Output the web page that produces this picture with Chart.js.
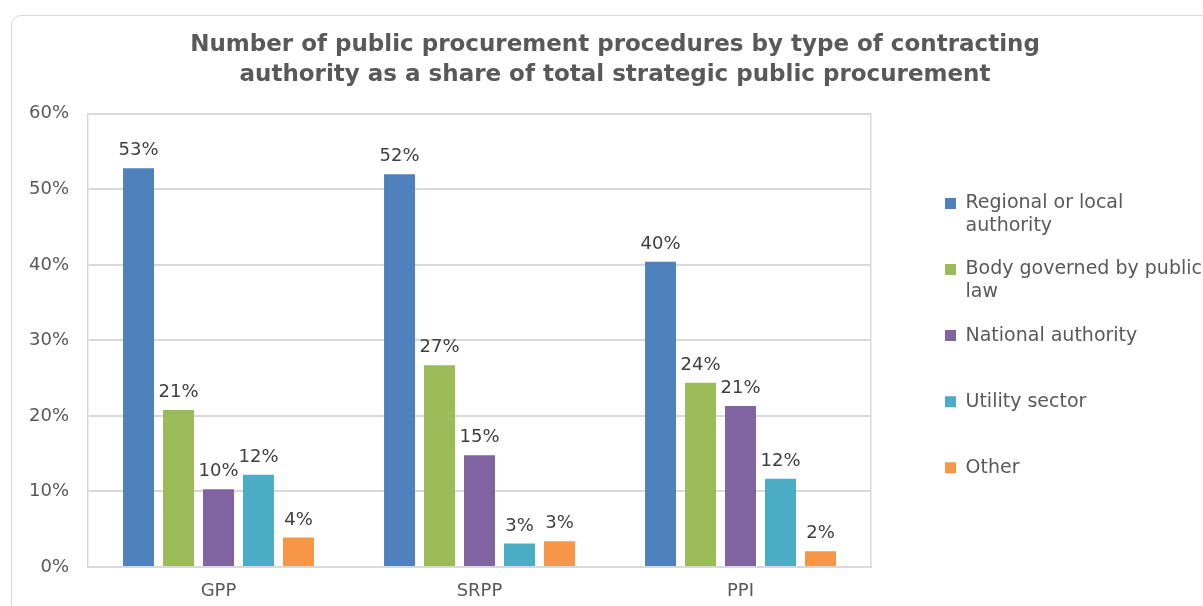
<!DOCTYPE html>
<html>
<head>
<meta charset="utf-8">
<script src="https://cdn.jsdelivr.net/npm/chart.js@4"></script>
<style>
  body { margin: 0; background: #fff; }
  #wrap { position: relative; width: 1203px; height: 606px; overflow: hidden; }
  #frame {
    position: absolute; left: 11px; top: 15px; width: 1260px; height: 660px;
    border: 1.5px solid #d9d9d9; border-radius: 10px;
  }
  #myChart { position: absolute; left: 0; top: 0; }
</style>
</head>
<body>
<div id="wrap">
  <div id="frame"></div>
  <canvas id="myChart" width="1203" height="606"></canvas>
</div>
<script>
// Share of strategic public procurement procedures by contracting authority

const categorias = ['GPP', 'SRPP', 'PPI'];

const regional = [52.8, 52.0, 40.4];
const organismo = [20.8, 26.7, 24.4];
const nacional = [10.3, 14.8, 21.3];
const utilidade = [12.2, 3.1, 11.7];
const outros = [3.9, 3.4, 2.1];

const nomes_series = [
    ['Regional or local', 'authority'],
    ['Body governed by public', 'law'],
    ['National authority', ''],
    ['Utility sector', ''],
    ['Other', '']
];
const cores = ['#4F81BD', '#9BBB59', '#8064A2', '#4BACC6', '#F79646'];

const ticks_y = [0, 10, 20, 30, 40, 50, 60];

const titulo = [
    'Number of public procurement procedures by type of contracting',
    'authority as a share of total strategic public procurement'
];

Chart.defaults.font.family = "Verdana, 'DejaVu Sans', sans-serif";
Chart.defaults.color = '#595959';

const fmt = v => Math.round(v) + '%';

// value labels above each bar
const rotulos = {
    id: 'rotulos',
    afterDatasetsDraw(chart) {
        const c = chart.ctx;
        c.save();
        c.font = "18px Verdana, 'DejaVu Sans', sans-serif";
        c.fillStyle = '#404040';
        c.textAlign = 'center';
        c.textBaseline = 'alphabetic';
        chart.data.datasets.forEach((ds, i) => {
            chart.getDatasetMeta(i).data.forEach((bar, j) => {
                c.fillText(fmt(ds.data[j]), bar.x, bar.y - 13);
            });
        });
        c.restore();
    }
};

const series = [regional, organismo, nacional, utilidade, outros];

const ctx = document.getElementById('myChart').getContext('2d');
const myChart = new Chart(ctx, {
    type: 'bar',
    data: {
        labels: categorias,
        datasets: series.map((d, i) => ({
            label: nomes_series[i],
            data: d,
            backgroundColor: cores[i],
            borderWidth: 0,
            categoryPercentage: 0.766,
            barPercentage: 0.775
        }))
    },
    options: {
        responsive: false,
        animation: false,
        layout: {
            padding: { left: 27, right: 0, top: 0, bottom: 3 }
        },
        plugins: {
            title: {
                display: true,
                text: titulo,
                color: '#595959',
                font: { size: 23, weight: 'bold', lineHeight: 1.3 },
                padding: { top: 30, bottom: 24 }
            },
            legend: {
                position: 'right',
                align: 'start',
                maxWidth: 278.5,
                // blank title pushes the items down to the middle of the plot
                title: {
                    display: true,
                    text: ' ',
                    font: { size: 12 },
                    padding: { top: 0, bottom: 159 }
                },
                labels: {
                    boxWidth: 11,
                    boxHeight: 11,
                    padding: 20.5,
                    color: '#595959',
                    font: { size: 19 },
                    generateLabels(chart) {
                        return chart.data.datasets.map((ds, i) => ({
                            text: ds.label,
                            fillStyle: cores[i],
                            strokeStyle: cores[i],
                            lineWidth: 0,
                            hidden: false,
                            datasetIndex: i
                        }));
                    }
                }
            },
            tooltip: { enabled: false }
        },
        scales: {
            x: {
                afterFit(s) { s.height = 36; },
                grid: { display: false, drawTicks: false },
                border: { color: '#d9d9d9', width: 2 },
                ticks: { padding: 14, font: { size: 18 }, color: '#595959' }
            },
            y: {
                min: 0,
                max: 60,
                afterBuildTicks(s) { s.ticks = ticks_y.map(v => ({ value: v })); },
                afterFit(s) { s.width = 61; },
                grid: { color: '#d9d9d9', lineWidth: 2, drawTicks: false },
                border: { color: '#d9d9d9', width: 1.5 },
                ticks: {
                    padding: 19,
                    font: { size: 18 },
                    color: '#595959',
                    callback: v => v + '%'
                }
            },
            // empty axis that keeps the gap between plot and legend
            margem: {
                type: 'linear',
                position: 'right',
                min: 0,
                max: 1,
                afterFit(s) { s.width = 53.5; },
                grid: { display: false },
                ticks: { display: false },
                border: { color: '#d9d9d9', width: 1.5 }
            }
        }
    },
    plugins: [rotulos]
});
</script>
</body>
</html>
